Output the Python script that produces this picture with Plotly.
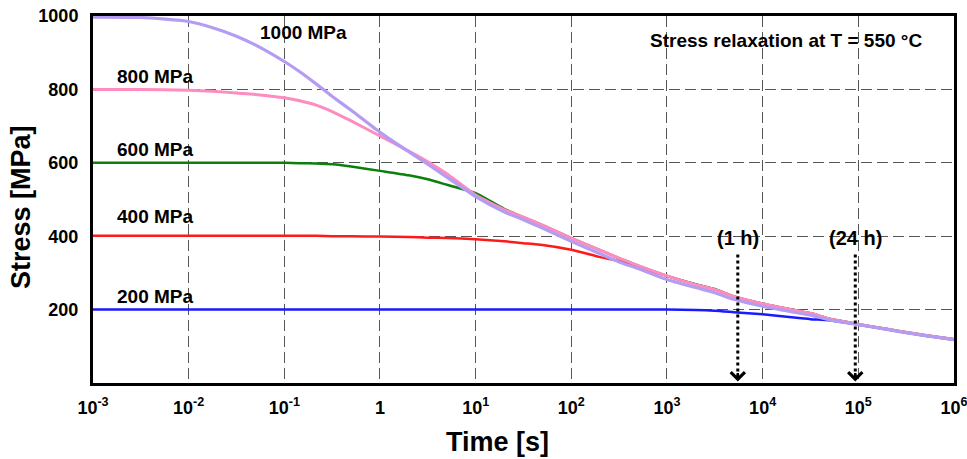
import numpy as np
import plotly.graph_objects as go

# ---------------- data ----------------
time_s = [1e-3, 3.16e-3, 1e-2, 1.78e-2, 3.16e-2, 5.62e-2, 1e-1, 0.145, 0.215, 0.32, 0.5,
          1, 2, 3.16, 5, 10, 20, 31.6, 50, 100, 200, 316, 500, 1000, 2000, 3160, 5000,
          1e4, 2e4, 3.16e4, 5e4, 1e5, 2e5, 3.16e5, 5e5, 1e6]

stress_1000 = [997, 996, 985, 968, 945, 914, 876, 848, 815, 780, 743, 683, 630, 596, 561,
               508, 466, 445, 422, 386, 352, 330, 312, 282, 260, 246, 228, 209, 194, 185,
               172, 159, 146, 137, 129, 118]
stress_800 = [800, 800, 798, 795, 790, 785, 777, 769, 757, 739, 714, 673, 632, 603, 570,
              512, 472, 452, 430, 395, 362, 340, 320, 292, 268, 255, 236, 216, 200, 190,
              175, 160, 147, 138, 130, 119]
stress_600 = [600, 600, 600, 600, 600, 600, 600, 599, 598, 596, 590, 578, 566, 555, 540,
              517, 474, 452, 430, 395, 362, 340, 320, 292, 269, 256, 236, 216, 200, 190,
              175, 160, 147, 138, 130, 119]
stress_400 = [401, 401, 401, 401, 401, 401, 401, 401, 401, 400, 400, 399, 398, 396, 395,
              392, 386, 381, 376, 363, 343, 332, 316, 292, 268, 255, 236, 216, 200, 190,
              175, 160, 147, 138, 130, 119]
stress_200 = [200, 200, 200, 200, 200, 200, 200, 200, 200, 200, 200, 200, 200, 200, 200,
              200, 200, 200, 200, 200, 200, 200, 200, 200, 199, 197, 193, 187, 179, 174,
              171, 159, 146, 137, 129, 118]

series_names = ["200 MPa", "400 MPa", "600 MPa", "800 MPa", "1000 MPa"]
series_values = [stress_200, stress_400, stress_600, stress_800, stress_1000]
series_colors = ["#1a1aff", "#ff1a1a", "#0a800a", "#ff8cc0", "#b49cf2"]
series_widths = [2.5, 2.5, 2.5, 3, 3.2]

# curve label centres (time, stress)
label_times = [0.0044, 0.0044, 0.0044, 0.0044, 0.157]
label_stress = [237, 454, 635, 835, 956]

x_tickvals = [1e-3, 1e-2, 1e-1, 1, 1e1, 1e2, 1e3, 1e4, 1e5, 1e6]
x_ticktext = ["10<sup>-3</sup>", "10<sup>-2</sup>", "10<sup>-1</sup>", "1",
              "10<sup>1</sup>", "10<sup>2</sup>", "10<sup>3</sup>",
              "10<sup>4</sup>", "10<sup>5</sup>", "10<sup>6</sup>"]
y_tickvals = [200, 400, 600, 800, 1000]

arrow_times = [5500, 93000]
arrow_labels = ["(1 h)", "(24 h)"]
arrow_top = 350
arrow_bottom = 14
arrow_label_y = 396

FONT = "Liberation Sans, Arial, sans-serif"

fig = go.Figure()

for name, vals, col, w in zip(series_names, series_values, series_colors, series_widths):
    fig.add_trace(go.Scatter(x=time_s, y=vals, mode="lines", name=name,
                             line=dict(color=col, width=w, shape="spline", smoothing=0.5),
                             cliponaxis=False, showlegend=False))

for t in arrow_times:
    fig.add_trace(go.Scatter(x=[t, t], y=[arrow_top, arrow_bottom], mode="lines",
                             line=dict(color="black", width=3, dash="3px,3px"),
                             showlegend=False))

for name, t, s in zip(series_names, label_times, label_stress):
    fig.add_annotation(x=np.log10(t), y=s, xref="x", yref="y", text=name,
                       showarrow=False, xanchor="center", yanchor="middle",
                       font=dict(family=FONT, size=19, color="black", weight="bold"))

for t, lab in zip(arrow_times, arrow_labels):
    fig.add_annotation(x=np.log10(t), y=arrow_label_y, xref="x", yref="y", text=lab,
                       showarrow=False, xanchor="center", yanchor="middle",
                       font=dict(family=FONT, size=20, color="black", weight="bold"))
    fig.add_annotation(x=np.log10(t), y=arrow_bottom - 10, xref="x", yref="y", text="",
                       showarrow=True, arrowhead=4, arrowsize=1.1, arrowwidth=2.5,
                       arrowcolor="black", ax=0, ay=-10)

W0, W1, H0, H1 = 93, 954, 16, 383  # plot area in pixels
fig.add_annotation(x=(786 - W0) / (W1 - W0), y=(H1 - 40.5) / (H1 - H0), xref="paper", yref="paper",
                   text="Stress relaxation at T = 550 °C", showarrow=False,
                   xanchor="center", yanchor="middle",
                   font=dict(family=FONT, size=19, color="black", weight="bold"))
fig.add_annotation(x=(497 - W0) / (W1 - W0), y=-(442 - H1) / (H1 - H0), xref="paper", yref="paper",
                   text="Time [s]", showarrow=False, xanchor="center", yanchor="middle",
                   font=dict(family=FONT, size=27, color="black", weight="bold"))
fig.add_annotation(x=-(W0 - 21) / (W1 - W0), y=(H1 - 207) / (H1 - H0), xref="paper", yref="paper",
                   text="Stress [MPa]", textangle=-90, showarrow=False, xanchor="center",
                   yanchor="middle",
                   font=dict(family=FONT, size=27, color="black", weight="bold"))

fig.update_layout(
    width=967, height=459,
    margin=dict(l=W0, r=967 - W1, t=H0, b=459 - H1, autoexpand=False),
    paper_bgcolor="white", plot_bgcolor="white",
    showlegend=False,
    font=dict(family=FONT, color="black"),
)

fig.update_xaxes(type="log", range=[-3, 6.0005], tickvals=x_tickvals, ticktext=x_ticktext,
                 showgrid=True, gridcolor="#555555", gridwidth=1, griddash="11px,5px",
                 showline=True, linecolor="black", linewidth=3, mirror=True,
                 ticks="", ticklabelstandoff=6, automargin=False, ticklabeloverflow="allow",
                 tickfont=dict(family=FONT, size=18, color="black", weight="bold"),
                 zeroline=False)
fig.update_yaxes(range=[0, 1000], tickvals=y_tickvals,
                 showgrid=True, gridcolor="#555555", gridwidth=1, griddash="11px,5px",
                 showline=True, linecolor="black", linewidth=3, mirror=True,
                 ticks="", ticklabelstandoff=8, automargin=False,
                 tickfont=dict(family=FONT, size=18, color="black", weight="bold"),
                 zeroline=False)

fig.write_html("out.html", config={"displayModeBar": False},
               post_script="document.body.style.margin='0';document.body.style.overflow='hidden';")
